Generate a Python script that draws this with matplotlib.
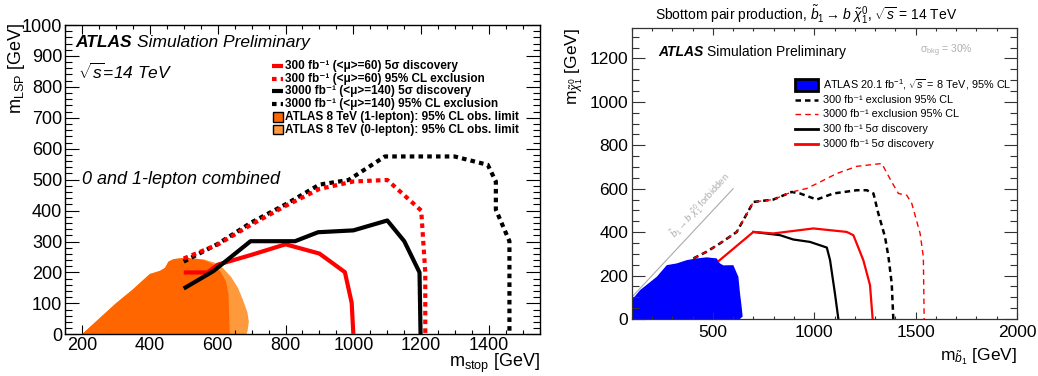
import matplotlib
matplotlib.use("Agg")
import matplotlib.pyplot as plt
from matplotlib.patches import Rectangle
from matplotlib.ticker import MultipleLocator

plt.rcParams['font.family'] = ['Liberation Sans', 'DejaVu Sans']
plt.rcParams['mathtext.fontset'] = 'custom'
plt.rcParams['mathtext.rm'] = 'Liberation Sans'
plt.rcParams['mathtext.it'] = 'Liberation Sans:italic'
plt.rcParams['mathtext.bf'] = 'Liberation Sans:bold'
plt.rcParams['mathtext.sf'] = 'Liberation Sans'

# ---------------- Left panel: stop (m_stop, m_LSP) ----------------
stop_disc300_x = [500, 570, 600, 700, 800, 900, 975, 995, 1000]
stop_disc300_y = [200, 200, 225, 257, 291, 261, 201, 102, 0]
stop_excl300_x = [500, 600, 700, 800, 900, 1000, 1100, 1200, 1212, 1212]
stop_excl300_y = [245, 290, 355, 415, 470, 494, 499, 400, 200, 0]
stop_disc3000_x = [500, 587, 697, 828, 896, 1000, 1100, 1150, 1195, 1198]
stop_disc3000_y = [148, 204, 301, 301, 330, 336, 368, 301, 200, 0]
stop_excl3000_x = [500, 600, 700, 800, 900, 986, 1093, 1298, 1396, 1420, 1420, 1460, 1460]
stop_excl3000_y = [235, 292, 362, 420, 484, 499, 575, 575, 548, 494, 403, 301, 0]
stop_1lep_x = [200, 250, 300, 350, 400, 430, 445, 455, 470, 500, 530, 560, 590, 610, 625, 632, 634, 636]
stop_1lep_y = [0, 50, 100, 145, 195, 205, 215, 235, 243, 247, 245, 240, 225, 200, 170, 130, 60, 0]
stop_0lep_x = [200, 250, 300, 350, 400, 430, 445, 455, 470, 500, 530, 560, 590, 615, 640, 660, 675, 688, 692, 688, 685]
stop_0lep_y = [0, 50, 100, 145, 195, 205, 215, 235, 243, 247, 245, 242, 232, 215, 185, 150, 110, 70, 40, 10, 0]

stop_labels = ["300 fb⁻¹ (<μ>=60) 5σ discovery",
               "300 fb⁻¹ (<μ>=60) 95% CL exclusion",
               "3000 fb⁻¹ (<μ>=140) 5σ discovery",
               "3000 fb⁻¹ (<μ>=140) 95% CL exclusion",
               "ATLAS 8 TeV (1-lepton): 95% CL obs. limit",
               "ATLAS 8 TeV (0-lepton): 95% CL obs. limit"]

# ---------------- Right panel: sbottom ----------------
sb_8tev_x = [100, 100, 141, 223, 273, 322, 371, 420, 470, 519, 535, 552, 601, 626, 634, 642, 647, 633]
sb_8tev_y = [0, 87, 133, 194, 248, 256, 271, 279, 284, 279, 256, 247, 248, 194, 118, 57, 11, 0]
sb_excl300_x = [404, 470, 535, 618, 700, 798, 889, 930, 1012, 1094, 1210, 1259, 1292, 1316, 1349, 1366, 1382, 1390]
sb_excl300_y = [279, 310, 348, 401, 539, 550, 585, 578, 550, 578, 593, 593, 578, 486, 378, 286, 164, 0]
sb_excl3000_x = [404, 470, 535, 618, 700, 798, 889, 963, 1029, 1111, 1210, 1333, 1382, 1415, 1456, 1481, 1522, 1538, 1542]
sb_excl3000_y = [279, 310, 348, 401, 539, 550, 585, 601, 631, 670, 703, 716, 631, 578, 570, 532, 394, 286, 0]
sb_disc300_x = [700, 831, 897, 979, 1062, 1078, 1102, 1119]
sb_disc300_y = [401, 386, 366, 355, 329, 271, 118, 0]
sb_disc3000_x = [530, 700, 798, 996, 1160, 1193, 1242, 1275, 1288]
sb_disc3000_y = [268, 401, 394, 417, 401, 386, 271, 156, 0]
kin_x = [100, 600]
kin_y = [100, 600]

sb_labels = [r"ATLAS 20.1 fb$^{-1}$, $\sqrt{s}$ = 8 TeV, 95% CL",
             "300 fb⁻¹ exclusion 95% CL",
             "3000 fb⁻¹ exclusion 95% CL",
             "300 fb⁻¹ 5σ discovery",
             "3000 fb⁻¹ 5σ discovery"]

DARK_OR = '#ff6600'
LIGHT_OR = '#ff9a3c'

fig = plt.figure(figsize=(10.38, 3.76), dpi=100)

# ===== Left axes =====
ax = fig.add_axes([0.0626, 0.1109, 0.4576, 0.8226])
ax.fill(stop_0lep_x, stop_0lep_y, color=LIGHT_OR, lw=0, zorder=1)
ax.fill(stop_1lep_x, stop_1lep_y, color=DARK_OR, lw=0, zorder=2)
dot = (0, (1.1, 1.0))
ax.plot(stop_excl3000_x, stop_excl3000_y, color='k', lw=3, ls=dot, dash_capstyle='butt', zorder=3)
ax.plot(stop_excl300_x, stop_excl300_y, color='r', lw=3, ls=dot, dash_capstyle='butt', zorder=4)
ax.plot(stop_disc300_x, stop_disc300_y, color='r', lw=3, solid_capstyle='butt', zorder=5)
ax.plot(stop_disc3000_x, stop_disc3000_y, color='k', lw=3, solid_capstyle='butt', zorder=6)

ax.set_xlim(150, 1550)
ax.set_ylim(0, 1000)
ax.xaxis.set_major_locator(MultipleLocator(200))
ax.xaxis.set_minor_locator(MultipleLocator(50))
ax.yaxis.set_major_locator(MultipleLocator(100))
ax.yaxis.set_minor_locator(MultipleLocator(20))
ax.tick_params(which='both', direction='in', top=True, right=True, width=0.8, labelsize=13)
ax.tick_params(axis='x', which='major', length=6.7, pad=2)
ax.tick_params(axis='x', which='minor', length=3.1)
ax.tick_params(axis='y', which='major', length=10, pad=2)
ax.tick_params(axis='y', which='minor', length=4.8)
for s in ax.spines.values():
    s.set_linewidth(1.0)
ax.set_ylabel(r"m$_{\rm LSP}$ [GeV]", fontsize=13, loc='top')
ax.yaxis.set_label_coords(-0.08, 1.006)
ax.set_xlabel(r"m$_{\rm stop}$ [GeV]", fontsize=13, loc='right')
ax.xaxis.set_label_coords(1.0, -0.058)

t1 = ax.text(0.021, 0.945, "ATLAS", transform=ax.transAxes, fontsize=12.5,
             fontweight='bold', style='italic', va='center', ha='left')
ax.annotate("Simulation Preliminary", xy=(1, 0.5), xycoords=t1, xytext=(4, 0),
            textcoords='offset points', fontsize=12.5, style='italic', va='center', ha='left')
ax.text(0.027, 0.848, r"$\sqrt{s}$=14 TeV", transform=ax.transAxes, fontsize=12.5,
        style='italic', va='center', ha='left')
ax.text(0.036, 0.499, "0 and 1-lepton combined", transform=ax.transAxes, fontsize=13,
        style='italic', va='center', ha='left')

rows = [0.868, 0.826, 0.786, 0.745, 0.703, 0.662]
styles = [('r', '-'), ('r', dot), ('k', '-'), ('k', dot)]
for i, (c, ls) in enumerate(styles):
    ax.plot([0.436, 0.459], [rows[i], rows[i]], transform=ax.transAxes, color=c, lw=3,
            ls=ls, dash_capstyle='butt', solid_capstyle='butt', clip_on=False)
for i, c in zip([4, 5], [DARK_OR, LIGHT_OR]):
    ax.add_patch(Rectangle((0.437, rows[i] - 0.016), 0.021, 0.032, transform=ax.transAxes,
                           facecolor=c, edgecolor='k', lw=1.0, clip_on=False))
for i, lab in enumerate(stop_labels):
    ax.text(0.464, rows[i], lab, transform=ax.transAxes, fontsize=8.5, fontweight='bold',
            va='center', ha='left')

# ===== Right axes =====
ax2 = fig.add_axes([0.6086, 0.1516, 0.3712, 0.7739])
ax2.fill(sb_8tev_x, sb_8tev_y, color='#0000ff', lw=0, zorder=1)
ax2.plot(kin_x, kin_y, color='#aaaaaa', lw=0.8, zorder=2)
ax2.plot(sb_excl300_x, sb_excl300_y, color='k', lw=1.8, ls=(0, (2.2, 1.6)), zorder=3)
ax2.plot(sb_excl3000_x, sb_excl3000_y, color='r', lw=1.0, ls=(0, (4, 3)), zorder=4)
ax2.plot(sb_disc300_x, sb_disc300_y, color='k', lw=1.6, zorder=5)
ax2.plot(sb_disc3000_x, sb_disc3000_y, color='r', lw=1.6, zorder=6)

ax2.set_xlim(100, 2000)
ax2.set_ylim(0, 1340)
ax2.xaxis.set_major_locator(MultipleLocator(500))
ax2.xaxis.set_minor_locator(MultipleLocator(100))
ax2.yaxis.set_major_locator(MultipleLocator(200))
ax2.yaxis.set_minor_locator(MultipleLocator(50))
ax2.tick_params(which='both', direction='in', top=True, right=True, width=0.8, labelsize=12.5,
                color='#333333')
ax2.tick_params(axis='x', which='major', length=4.8, pad=4)
ax2.tick_params(axis='x', which='minor', length=2.4)
ax2.tick_params(axis='y', which='major', length=9.4, pad=2.5)
ax2.tick_params(axis='y', which='minor', length=4.8)
for s in ax2.spines.values():
    s.set_linewidth(0.9)
    s.set_color('#333333')
ax2.set_ylabel(r"m$_{\tilde{\chi}^0_1}$ [GeV]", fontsize=12.5, loc='top')
ax2.yaxis.set_label_coords(-0.12, 1.0)
ax2.set_xlabel(r"m$_{\tilde{b}_1}$ [GeV]", fontsize=12.5, loc='right')
ax2.xaxis.set_label_coords(1.0, -0.095)

fig.text(0.777, 0.962, r"Sbottom pair production, $\tilde{b}_1 \rightarrow b\ \tilde{\chi}^0_1$, $\sqrt{s}$ = 14 TeV",
         fontsize=10, ha='center', va='center')

t2 = ax2.text(0.068, 0.919, "ATLAS", transform=ax2.transAxes, fontsize=10,
              fontweight='bold', style='italic', va='center', ha='left')
ax2.annotate("Simulation Preliminary", xy=(1, 0.5), xycoords=t2, xytext=(3, 0),
             textcoords='offset points', fontsize=10, va='center', ha='left')
ax2.text(0.749, 0.92, r"σ$_{\rm bkg}$ = 30%", transform=ax2.transAxes, fontsize=7.5,
         color='#b0b0b0', va='center', ha='left')
ax2.text(440, 520, r"$\tilde{b}_1 \rightarrow b\ \tilde{\chi}^0_1$ forbidden", fontsize=6.8,
         color='#aaaaaa', rotation=48, ha='center', va='center', rotation_mode='anchor')

rows2 = [0.804, 0.753, 0.704, 0.653, 0.601]
ax2.add_patch(Rectangle((0.425, rows2[0] - 0.02), 0.058, 0.04, transform=ax2.transAxes,
                        facecolor='#0000ff', edgecolor='k', lw=2.0, clip_on=False))
leg_styles = [('k', (0, (2.2, 1.6)), 1.8), ('r', (0, (4, 3)), 1.0), ('k', '-', 2.0), ('r', '-', 2.0)]
for i, (c, ls, lw) in enumerate(leg_styles):
    ax2.plot([0.424, 0.484], [rows2[i + 1]] * 2, transform=ax2.transAxes, color=c, lw=lw,
             ls=ls, clip_on=False)
for i, lab in enumerate(sb_labels):
    ax2.text(0.496, rows2[i], lab, transform=ax2.transAxes, fontsize=7.8,
             va='center', ha='left')

fig.savefig("out.png", dpi=100)
